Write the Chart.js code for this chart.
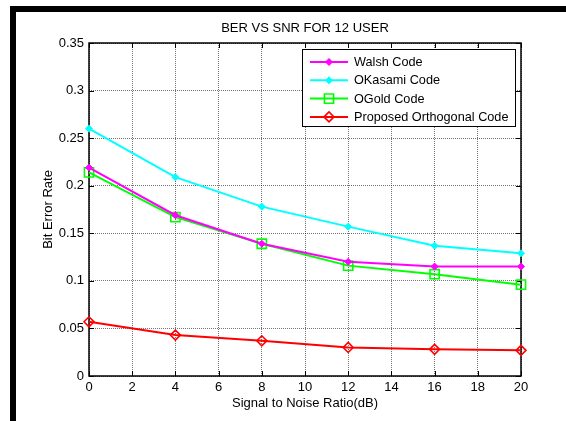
<!DOCTYPE html>
<html><head><meta charset="utf-8">
<script src="https://cdn.jsdelivr.net/npm/chart.js@4"></script>
<style>html,body{margin:0;padding:0;background:#fff;overflow:hidden}</style>
</head><body>
<canvas id="c" width="566" height="421"></canvas>
<script>
const snr = [0, 4, 8, 12, 16, 20];
const walsh = [0.219, 0.169, 0.139, 0.120, 0.115, 0.115];
const okasami = [0.260, 0.209, 0.178, 0.157, 0.137, 0.129];
const ogold = [0.214, 0.167, 0.139, 0.116, 0.107, 0.096];
const proposed = [0.057, 0.043, 0.037, 0.030, 0.028, 0.027];
const seriesLabels = ['Walsh Code', 'OKasami Code', 'OGold Code', 'Proposed Orthogonal Code'];
const xTickLabels = ['0', '2', '4', '6', '8', '10', '12', '14', '16', '18', '20'];
const yTickLabels = ['0', '0.05', '0.1', '0.15', '0.2', '0.25', '0.3', '0.35'];

const FONT = "'Liberation Sans', Arial, sans-serif";
const toXY = arr => snr.map((x, i) => ({x: x, y: arr[i]}));

function makeDs(label, data, color, style, radius, filled) {
  return {
    label: label, data: toXY(data),
    borderColor: color, backgroundColor: color, borderWidth: 2, tension: 0,
    pointStyle: style, pointRadius: radius, pointHoverRadius: radius,
    pointBorderColor: color, pointBorderWidth: filled ? 1 : 1.6,
    pointBackgroundColor: filled ? color : 'rgba(0,0,0,0)',
    clip: false, fill: false
  };
}

function drawMarker(ctx, style, x, y, r, color, filled) {
  ctx.beginPath();
  if (style === 'rect') {
    const s = Math.SQRT1_2 * r;
    ctx.rect(x - s, y - s, 2 * s, 2 * s);
  } else {
    ctx.moveTo(x - r, y); ctx.lineTo(x, y - r); ctx.lineTo(x + r, y); ctx.lineTo(x, y + r); ctx.closePath();
  }
  ctx.strokeStyle = color;
  ctx.lineWidth = filled ? 1 : 1.6;
  if (filled) { ctx.fillStyle = color; ctx.fill(); }
  ctx.stroke();
}

const decor = {
  id: 'decor',
  beforeDraw(chart) {
    const ctx = chart.ctx;
    ctx.save();
    ctx.fillStyle = '#fff';
    ctx.fillRect(0, 0, chart.width, chart.height);
    ctx.fillStyle = '#000';
    ctx.fillRect(10, 6, chart.width - 10, 6);
    ctx.fillRect(10, 6, 6, chart.height - 6);
    ctx.restore();
  },
  beforeDatasetsDraw(chart) {
    const ctx = chart.ctx, a = chart.chartArea;
    const xs = chart.scales.x, ys = chart.scales.y;
    ctx.save();
    ctx.strokeStyle = '#000';
    ctx.lineWidth = 1.5;
    ctx.strokeRect(a.left, a.top, a.right - a.left, a.bottom - a.top);
    ctx.lineWidth = 1;
    ctx.beginPath();
    xs.ticks.forEach(t => {
      const px = Math.round(xs.getPixelForValue(t.value)) + 0.5;
      ctx.moveTo(px, a.bottom); ctx.lineTo(px, a.bottom - 5);
      ctx.moveTo(px, a.top); ctx.lineTo(px, a.top + 5);
    });
    ys.ticks.forEach(t => {
      const py = Math.round(ys.getPixelForValue(t.value)) + 0.5;
      ctx.moveTo(a.left, py); ctx.lineTo(a.left + 5, py);
      ctx.moveTo(a.right, py); ctx.lineTo(a.right - 5, py);
    });
    ctx.stroke();
    ctx.restore();
  },
  afterDatasetsDraw(chart) {
    const ctx = chart.ctx, a = chart.chartArea;
    const bw = 213, bh = 77;
    const bx = a.right - 219, by = a.top + 6;
    ctx.save();
    ctx.fillStyle = '#fff';
    ctx.fillRect(bx, by, bw, bh);
    ctx.strokeStyle = '#000';
    ctx.lineWidth = 1;
    ctx.strokeRect(bx + 0.5, by + 0.5, bw, bh);
    ctx.font = '12.7px ' + FONT;
    ctx.textBaseline = 'middle';
    ctx.textAlign = 'left';
    chart.data.datasets.forEach((ds, i) => {
      const y = by + 13 + i * 18.3;
      ctx.strokeStyle = ds.borderColor;
      ctx.lineWidth = 2;
      ctx.beginPath(); ctx.moveTo(bx + 8, y); ctx.lineTo(bx + 46, y); ctx.stroke();
      drawMarker(ctx, ds.pointStyle, bx + 27, y, ds.pointRadius, ds.borderColor, ds.pointBackgroundColor !== 'rgba(0,0,0,0)');
      ctx.fillStyle = '#000';
      ctx.fillText(ds.label, bx + 52, y + 0.5);
    });
    ctx.restore();
  }
};

new Chart(document.getElementById('c'), {
  type: 'line',
  data: {
    datasets: [
      makeDs(seriesLabels[0], walsh, '#ff00ff', 'rectRot', 3.5, true),
      makeDs(seriesLabels[1], okasami, '#00ffff', 'rectRot', 3.5, true),
      makeDs(seriesLabels[2], ogold, '#00ff00', 'rect', 6.5, false),
      makeDs(seriesLabels[3], proposed, '#ff0000', 'rectRot', 5, false)
    ]
  },
  options: {
    responsive: false,
    animation: false,
    devicePixelRatio: 1,
    layout: {padding: {left: 41, right: 45, top: 0, bottom: 0}},
    plugins: {
      legend: {display: false},
      tooltip: {enabled: false},
      title: {
        display: true, text: 'BER VS SNR FOR 12 USER', color: '#000', fullSize: false,
        font: {family: FONT, size: 13, weight: 'normal'},
        padding: {top: 20.2, bottom: 7.2}
      }
    },
    scales: {
      x: {
        type: 'linear', min: 0, max: 20,
        afterFit: s => { s.height = 45; },
        ticks: {stepSize: 2, color: '#000', padding: 3.2, maxRotation: 0, autoSkip: false,
          font: {family: FONT, size: 13}, callback: (v, i) => xTickLabels[i]},
        grid: {color: 'rgba(0,0,0,0.55)', lineWidth: 1, drawTicks: false},
        border: {display: false, dash: [1, 1]},
        title: {display: true, text: 'Signal to Noise Ratio(dB)', color: '#000',
          font: {family: FONT, size: 13}, padding: {top: 0, bottom: 10.2}}
      },
      y: {
        type: 'linear', min: 0, max: 0.35,
        afterFit: s => { s.width = 48; },
        ticks: {stepSize: 0.05, color: '#000', padding: 5, autoSkip: false,
          font: {family: FONT, size: 13}, callback: (v, i) => yTickLabels[i]},
        grid: {color: 'rgba(0,0,0,0.55)', lineWidth: 1, drawTicks: false},
        border: {display: false, dash: [1, 1]},
        title: {display: true, text: 'Bit Error Rate', color: '#000',
          font: {family: FONT, size: 13}, padding: {top: 0, bottom: 0}}
      }
    }
  },
  plugins: [decor]
});
</script>
</body></html>
